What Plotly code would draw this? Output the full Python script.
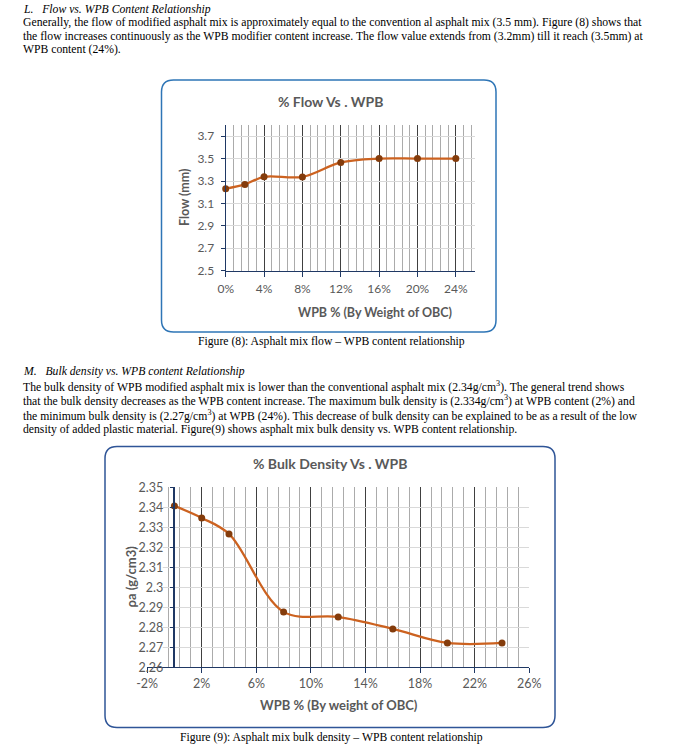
import plotly.graph_objects as go

W, H = 675, 755

# ---------------- data ----------------
flow_wpb = [0, 2, 4, 8, 12, 16, 20, 24]
flow_mm = [3.232, 3.27, 3.338, 3.337, 3.466, 3.50, 3.50, 3.50]
flow_xtick_vals = [0, 4, 8, 12, 16, 20, 24]
flow_xtick_text = ["0%", "4%", "8%", "12%", "16%", "20%", "24%"]
flow_ytick_vals = [2.5, 2.7, 2.9, 3.1, 3.3, 3.5, 3.7]
flow_ytick_text = ["2.5", "2.7", "2.9", "3.1", "3.3", "3.5", "3.7"]

dens_wpb = [0, 2, 4, 8, 12, 16, 20, 24]
dens_val = [2.3407, 2.3347, 2.3267, 2.2877, 2.2852, 2.2792, 2.2722, 2.2722]
dens_xtick_vals = [-2, 2, 6, 10, 14, 18, 22, 26]
dens_xtick_text = ["-2%", "2%", "6%", "10%", "14%", "18%", "22%", "26%"]
dens_ytick_vals = [2.26, 2.27, 2.28, 2.29, 2.30, 2.31, 2.32, 2.33, 2.34, 2.35]
dens_ytick_text = ["2.26", "2.27", "2.28", "2.29", "2.3", "2.31", "2.32", "2.33", "2.34", "2.35"]

# ---------------- text ----------------
sec_l_title = "L.&nbsp;&nbsp;&nbsp;Flow vs. WPB Content Relationship"
sec_l_lines = [
    "Generally, the flow of modified asphalt mix is approximately equal to the convention al asphalt mix (3.5 mm). Figure (8) shows that",
    "the flow increases continuously as the WPB modifier content increase. The flow value extends from (3.2mm) till it reach (3.5mm) at",
    "WPB content (24%).",
]
fig8_caption = "Figure (8): Asphalt mix flow – WPB content relationship"
sec_m_title = "M.&nbsp;&nbsp;&nbsp;Bulk density vs. WPB content Relationship"
sec_m_lines = [
    "The bulk density of WPB modified asphalt mix is lower than the conventional asphalt mix (2.34g/cm<sup>3</sup>). The general trend shows",
    "that the bulk density decreases as the WPB content increase. The maximum bulk density is (2.334g/cm<sup>3</sup>) at WPB content (2%) and",
    "the minimum bulk density is (2.27g/cm<sup>3</sup>) at WPB (24%). This decrease of bulk density can be explained to be as a result of the low",
    "density of added plastic material. Figure(9) shows asphalt mix bulk density vs. WPB content relationship.",
]
fig9_caption = "Figure (9): Asphalt mix bulk density – WPB content relationship"


def px(x):
    return x / W


def py(y):
    return 1 - y / H


def rounded(x0, y0, x1, y1, r):
    pts = [
        f"M {px(x0 + r)},{py(y0)}",
        f"L {px(x1 - r)},{py(y0)}",
        f"Q {px(x1)},{py(y0)} {px(x1)},{py(y0 + r)}",
        f"L {px(x1)},{py(y1 - r)}",
        f"Q {px(x1)},{py(y1)} {px(x1 - r)},{py(y1)}",
        f"L {px(x0 + r)},{py(y1)}",
        f"Q {px(x0)},{py(y1)} {px(x0)},{py(y1 - r)}",
        f"L {px(x0)},{py(y0 + r)}",
        f"Q {px(x0)},{py(y0)} {px(x0 + r)},{py(y0)}",
        "Z",
    ]
    return " ".join(pts)


def minor_positions(start, stop, step, major_every):
    out = []
    i = 0
    while start + i * step <= stop + 1e-9:
        if i % major_every != 0:
            out.append(round(start + i * step, 4))
        i += 1
    return out


SERIF = "Liberation Serif"
SANS = "Lato"
GREY = "#595959"
NAVY = "#1F3864"
LINE = "#CC6220"
MARK = "#843C0C"
MAJ = "#404040"
MINOR = "#ABABAB"
HGRID = "#D9D9D9"

fig = go.Figure()
fig.add_trace(go.Scatter(
    x=flow_wpb, y=flow_mm, mode="lines+markers", xaxis="x", yaxis="y",
    line=dict(color=LINE, width=2.25, shape="spline", smoothing=1.0),
    marker=dict(color=MARK, size=7), showlegend=False, cliponaxis=False,
))
fig.add_trace(go.Scatter(
    x=dens_wpb, y=dens_val, mode="lines+markers", xaxis="x2", yaxis="y2",
    line=dict(color=LINE, width=2.25, shape="spline", smoothing=1.0),
    marker=dict(color=MARK, size=7), showlegend=False, cliponaxis=False,
))

tickfont1 = dict(family=SANS, size=12, color=GREY)
tickfont2 = dict(family=SANS, size=12.5, color=GREY)

fig.update_layout(
    template="none",
    width=W, height=H, margin=dict(l=0, r=0, t=0, b=0, pad=0, autoexpand=False),
    paper_bgcolor="white", plot_bgcolor="white",
    xaxis=dict(
        domain=[px(225.7), px(475)], range=[0, 26], anchor="y", automargin=False,
        tickmode="array", tickvals=flow_xtick_vals, ticktext=flow_xtick_text,
        showgrid=True, gridcolor=MAJ, gridwidth=1,
        minor=dict(tickmode="array", tickvals=minor_positions(0, 26, 0.8, 5),
                   showgrid=True, gridcolor=MINOR, gridwidth=1, ticks=""),
        showline=True, linecolor=NAVY, linewidth=1.3,
        ticks="outside", ticklen=5, tickcolor=NAVY, tickfont=tickfont1,
        ticklabelstandoff=2,
        zeroline=False, fixedrange=True,
    ),
    yaxis=dict(
        domain=[py(270.7), py(125)], range=[2.5, 3.8], anchor="x", automargin=False,
        tickmode="array", tickvals=flow_ytick_vals, ticktext=flow_ytick_text,
        showgrid=True, gridcolor=HGRID, gridwidth=1,
        showline=True, linecolor=NAVY, linewidth=1.3,
        ticks="outside", ticklen=4, tickcolor=NAVY, tickfont=tickfont1,
        ticklabelstandoff=4,
        zeroline=False, fixedrange=True,
    ),
    xaxis2=dict(
        domain=[px(147.1), px(529.3)], range=[-2, 26], anchor="y2", automargin=False,
        tickmode="array", tickvals=dens_xtick_vals, ticktext=dens_xtick_text,
        showgrid=True, gridcolor=MAJ, gridwidth=1,
        minor=dict(tickmode="array", tickvals=minor_positions(-2, 26, 0.8, 5),
                   showgrid=True, gridcolor=MINOR, gridwidth=1, ticks=""),
        showline=True, linecolor=NAVY, linewidth=1.3,
        ticks="outside", ticklen=5, tickcolor=NAVY, tickfont=tickfont2,
        zeroline=False, fixedrange=True,
    ),
    yaxis2=dict(
        domain=[py(667.3), py(487.3)], range=[2.26, 2.35], anchor="free", position=px(174.4),
        automargin=False,
        tickmode="array", tickvals=dens_ytick_vals, ticktext=dens_ytick_text,
        showgrid=True, gridcolor=HGRID, gridwidth=1,
        showline=True, linecolor=NAVY, linewidth=1.5,
        ticks="outside", ticklen=4, tickcolor=NAVY, tickfont=tickfont2,
        ticklabelstandoff=4,
        zeroline=False, fixedrange=True,
    ),
)

shapes = [
    dict(type="path", xref="paper", yref="paper", path=rounded(161.5, 80, 496, 332, 12),
         line=dict(color="#2E75B6", width=1.5), fillcolor="rgba(0,0,0,0)", layer="below"),
    dict(type="path", xref="paper", yref="paper", path=rounded(105, 446.5, 555, 727.5, 12),
         line=dict(color="#2F5597", width=1.5), fillcolor="rgba(0,0,0,0)", layer="below"),
    dict(type="rect", xref="x2", yref="y2", x0=-2.1, x1=-0.85, y0=2.2595, y1=2.3505,
         fillcolor="white", line=dict(width=0), layer="between"),
]

ann = []


def text(x, y, s, size=11.7, family=SERIF, color="black", xanchor="left", bold=False, italic=False, angle=0):
    if bold:
        s = f"<b>{s}</b>"
    if italic:
        s = f"<i>{s}</i>"
    ann.append(dict(x=px(x), y=py(y), xref="paper", yref="paper", text=s, showarrow=False,
                    xanchor=xanchor, yanchor="middle", textangle=angle, borderpad=0,
                    font=dict(family=family, size=size, color=color)))


text(22, 9, sec_l_title, italic=True)
for i, s in enumerate(sec_l_lines):
    text(22, 22.5 + i * 13.7, s)
text(331, 341, fig8_caption, xanchor="center")
text(22, 372, sec_m_title, italic=True)
for i, s in enumerate(sec_m_lines):
    text(22, 386.5 + i * 14.3, s)
text(331, 737.5, fig9_caption, xanchor="center")

# chart titles and axis titles
text(330, 101.5, "% Flow Vs . WPB", size=14, family=SANS, color=GREY, xanchor="center", bold=True)
text(375, 312.5, "WPB % (By Weight of OBC)", size=12.5, family=SANS, color=GREY, xanchor="center", bold=True)
text(185, 197, "Flow (mm)", size=12.5, family=SANS, color=GREY, xanchor="center", bold=True, angle=-90)

text(330, 463, "% Bulk Density Vs . WPB", size=14, family=SANS, color=GREY, xanchor="center", bold=True)
text(338.5, 705, "WPB % (By weight of OBC)", size=13, family=SANS, color=GREY, xanchor="center", bold=True)
text(130, 576.5, "ρa (g/cm3)", size=13, family=SANS, color=GREY, xanchor="center", bold=True, angle=-90)

fig.update_layout(shapes=shapes, annotations=ann)
fig.write_html("out.html", config={"displayModeBar": False},
               post_script="document.body.style.margin='0px';")
